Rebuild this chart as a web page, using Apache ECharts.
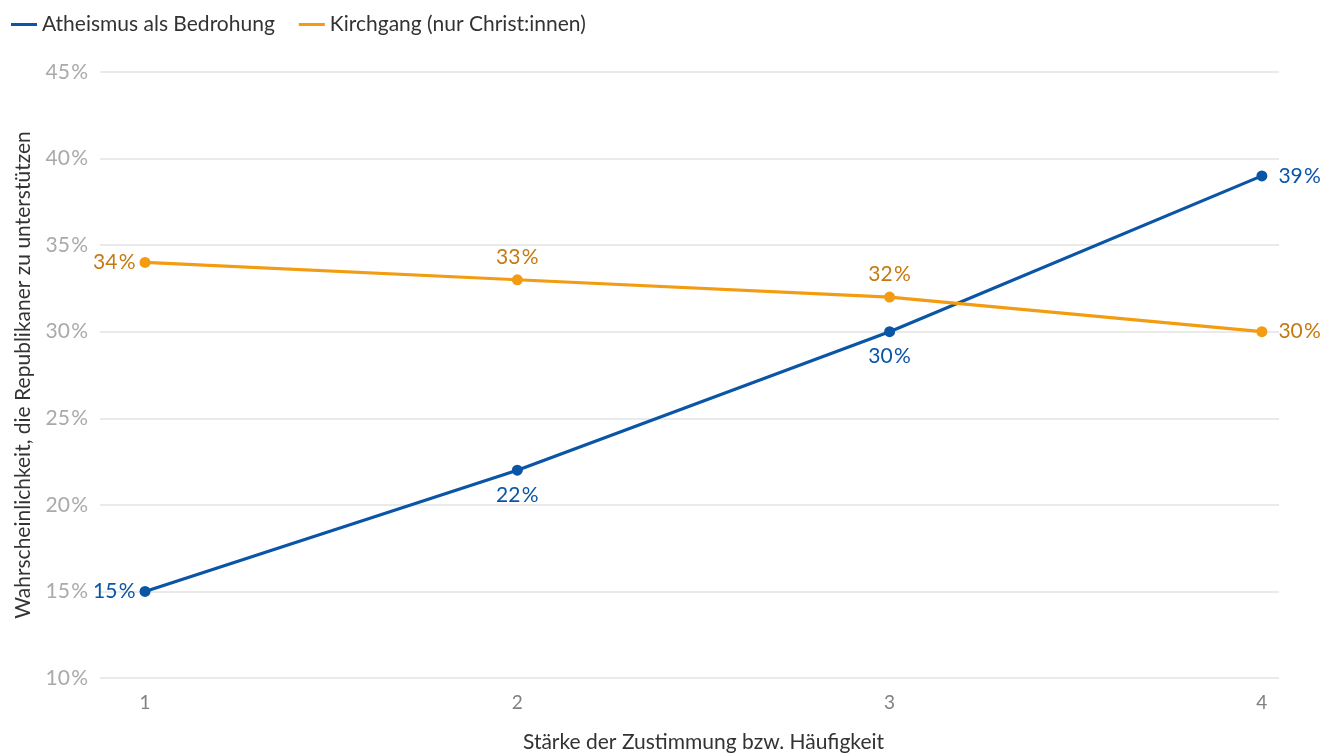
<!DOCTYPE html>
<html>
<head>
<meta charset="utf-8">
<script src="https://cdn.jsdelivr.net/npm/echarts@6/dist/echarts.min.js"></script>
<style>
  html, body { margin: 0; padding: 0; background: #fff; }
  #chart { width: 1337px; height: 754px; }
</style>
</head>
<body>
<div id="chart"></div>
<script>
// Agreement / frequency level (x) and probability of supporting Republicans (%)
const levels = [1, 2, 3, 4];
const atheismThreat = [15, 22, 30, 39];
const churchAttendance = [34, 33, 32, 30];
const atheismLabelPos = ['left', 'bottom', 'bottom', 'right'];
const churchLabelPos = ['left', 'top', 'top', 'right'];
const seriesNames = ['Atheismus als Bedrohung', 'Kirchgang (nur Christ:innen)'];

const BLUE = '#0b55a6';
const ORANGE = '#f39c12';
const ORANGE_TEXT = '#c47a10';
const FONT = 'Lato, "Noto Sans", sans-serif';
const PCT = '\u200A%';

// per-position label offsets from the marker
const labelDistance = { left: 4, right: 11, top: 7, bottom: 9 };

function buildData(values, positions, color) {
  return levels.map((x, i) => ({
    value: [x, values[i]],
    label: { position: positions[i], color: color, distance: labelDistance[positions[i]] }
  }));
}

const chart = echarts.init(document.getElementById('chart'));
chart.setOption({
  animation: false,
  textStyle: { fontFamily: FONT },
  legend: {
    left: 6, top: 9,
    itemWidth: 26, itemHeight: 3, itemGap: 24,
    icon: 'rect',
    textStyle: { fontSize: 21, color: '#333', fontFamily: FONT },
    data: seriesNames
  },
  grid: { left: 100, right: 58, top: 72, bottom: 76, outerBoundsMode: 'none', containLabel: false },
  xAxis: {
    type: 'value',
    min: 0.879, max: 4.046,
    name: 'Stärke der Zustimmung bzw. Häufigkeit',
    nameLocation: 'middle', nameGap: 54,
    nameTextStyle: { fontSize: 21, color: '#333', padding: [0, 0, 0, 28] },
    axisLine: { show: false },
    axisTick: { show: false },
    splitLine: { show: false },
    axisLabel: {
      customValues: levels,
      fontSize: 19, color: '#808080', margin: 15
    }
  },
  yAxis: {
    type: 'value',
    min: 10, max: 45, interval: 5,
    name: 'Wahrscheinlichkeit, die Republikaner zu unterstützen',
    nameLocation: 'middle', nameGap: 66, nameRotate: 90,
    nameTextStyle: { fontSize: 21, color: '#333' },
    axisLine: { show: false },
    axisTick: { show: false },
    axisLabel: { formatter: v => v + PCT, fontSize: 21, color: '#aaa', margin: 12 },
    splitLine: { lineStyle: { color: '#e3e3e3', width: 1.5 } }
  },
  series: [
    {
      name: seriesNames[0],
      type: 'line',
      data: buildData(atheismThreat, atheismLabelPos, BLUE),
      color: BLUE,
      lineStyle: { width: 3.2 },
      symbol: 'circle', symbolSize: 11,
      label: { show: true, fontSize: 21, formatter: p => p.value[1] + PCT }
    },
    {
      name: seriesNames[1],
      type: 'line',
      data: buildData(churchAttendance, churchLabelPos, ORANGE_TEXT),
      color: ORANGE,
      lineStyle: { width: 3.2 },
      symbol: 'circle', symbolSize: 11,
      label: { show: true, fontSize: 21, formatter: p => p.value[1] + PCT }
    }
  ]
});
</script>
</body>
</html>
